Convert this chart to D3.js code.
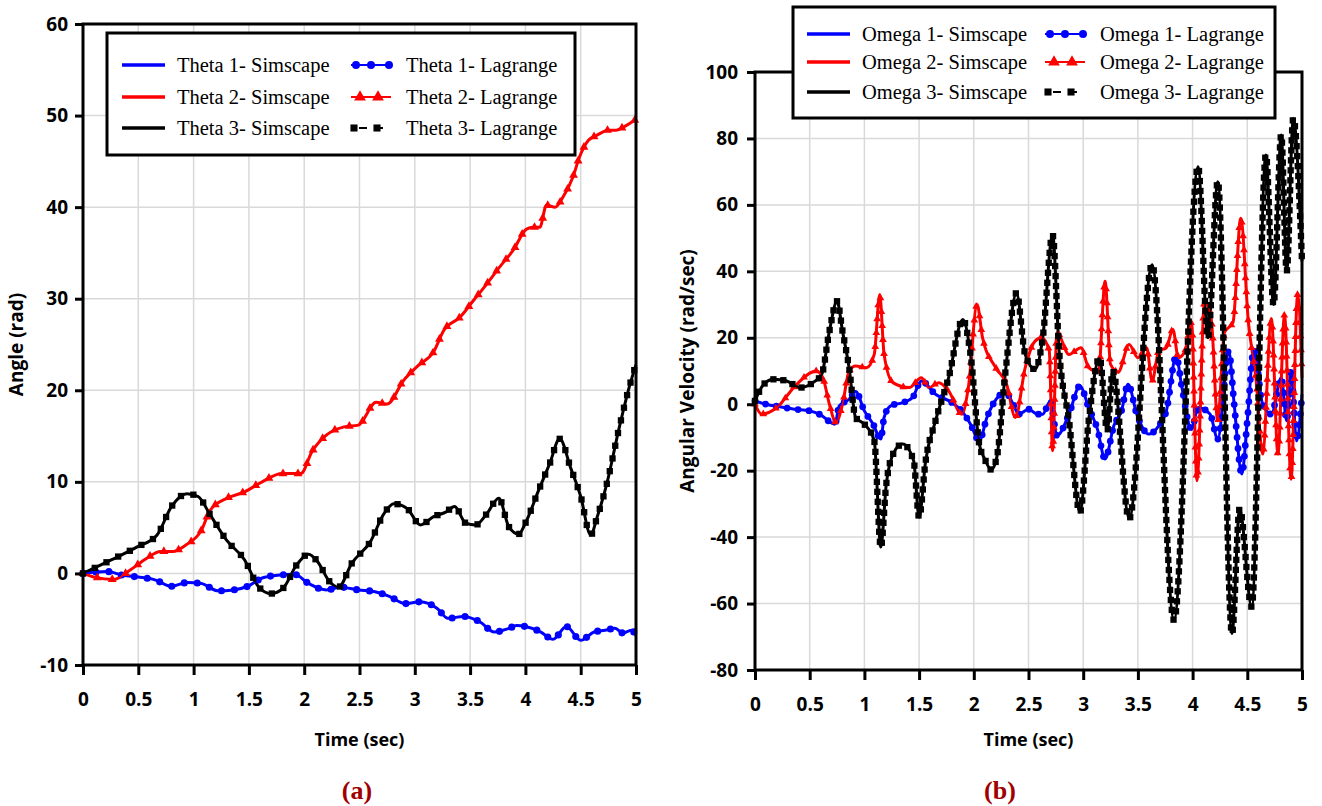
<!DOCTYPE html>
<html>
<head>
<meta charset="utf-8">
<script src="https://cdn.jsdelivr.net/npm/d3@7"></script>
<style>
  body { margin: 0; background: #fff; }
</style>
</head>
<body>
<script>
// ---- data ----
var timeTicks  = [0, 0.5, 1, 1.5, 2, 2.5, 3, 3.5, 4, 4.5, 5];
var angleTicks = [-10, 0, 10, 20, 30, 40, 50, 60];
var omegaTicks = [-80, -60, -40, -20, 0, 20, 40, 60, 80, 100];

// (a) angles, rad
var theta1T = [0,0.22,0.36,0.5,0.65,0.8,0.94,1.07,1.22,1.36,1.49,1.62,1.76,1.91,2.04,2.2,2.33,2.49,2.64,2.77,2.91,3.05,3.2,3.3,3.44,3.59,3.72,3.85,3.92,4.0,4.14,4.25,4.37,4.5,4.62,4.72,4.81,4.88,4.96,5.0];
var theta1  = [0,0.2,-0.2,-0.4,-0.7,-1.4,-1.0,-1.1,-1.9,-1.8,-1.4,-0.5,-0.2,-0.1,-1.1,-1.8,-1.5,-1.8,-2.0,-2.5,-3.3,-3.1,-3.8,-4.9,-4.7,-5.3,-6.4,-6.0,-5.7,-5.8,-6.4,-7.2,-5.8,-7.3,-6.4,-6.2,-6.0,-6.5,-6.2,-6.8];

var theta2T = [0,0.1,0.28,0.43,0.57,0.7,0.81,0.93,1.07,1.15,1.3,1.46,1.62,1.8,1.97,2.07,2.2,2.36,2.49,2.65,2.75,2.9,3.03,3.17,3.26,3.41,3.53,3.65,3.77,3.89,4.01,4.07,4.13,4.19,4.27,4.34,4.43,4.49,4.57,4.64,4.75,4.82,4.88,5.0];
var theta2  = [0,-0.4,-0.65,0.4,1.6,2.4,2.4,3.1,4.7,6.9,8.2,8.9,10.0,10.9,10.9,13.3,15.1,16.0,16.2,18.7,18.5,21.1,22.7,24.2,26.5,28,29.8,31.6,33.5,35.3,37.6,37.8,37.8,40.2,40,41.1,43.3,45.5,47.3,47.8,48.4,48.4,48.7,49.6];

var theta3T = [0,0.26,0.49,0.67,0.8,0.94,1.04,1.15,1.3,1.46,1.59,1.7,1.81,1.93,2.04,2.12,2.23,2.31,2.43,2.6,2.72,2.81,2.93,3.05,3.17,3.28,3.36,3.46,3.55,3.65,3.76,3.85,3.94,4.0,4.12,4.22,4.31,4.41,4.5,4.59,4.65,4.73,4.85,4.94,5.0];
var theta3  = [0,1.5,2.9,4.2,7.3,8.7,8.4,6.4,3.6,1.5,-1.5,-2.2,-1.6,0.9,2.1,1.3,-0.9,-1.5,1.1,3.5,6.5,7.6,7.1,5.3,6.2,6.7,7.3,5.5,5.3,6.5,8.2,5.1,4.3,5.5,9.1,12.0,14.7,11.5,8.4,4.2,6.2,9.5,16.0,20.4,22.8];

// (b) angular velocities, rad/sec
var omega1T = [0,0.1,0.23,0.36,0.5,0.6,0.73,0.77,0.86,0.92,1.0,1.08,1.15,1.18,1.24,1.35,1.44,1.52,1.65,1.8,1.89,1.97,2.05,2.12,2.23,2.29,2.36,2.41,2.5,2.58,2.63,2.7,2.76,2.87,2.97,3.05,3.13,3.2,3.28,3.35,3.41,3.49,3.6,3.69,3.76,3.85,3.9,3.99,4.05,4.16,4.23,4.33,4.38,4.45,4.5,4.56,4.64,4.72,4.81,4.86,4.9,4.95,5.0];
var omega1  = [1,0,-0.8,-1.5,-2,-3.2,-6,-0.5,1.5,3.8,-2,-6,-10.5,-4,-0.5,0.5,2,7,3,0.5,-2,-6,-11,-4,2.5,3.5,0,-3,-1.5,-3,-3,1,-9.5,-3,5.5,-1,-7.5,-16.5,-6.5,-2,6,-3,-9,-6.5,-2,14.5,5.5,-7.5,-1,-3,-10.5,16,0,-21,-5,16.5,0,-3,8,-5,10,-11,3];

var omega2T = [0,0.06,0.2,0.38,0.56,0.62,0.68,0.74,0.8,0.86,0.92,1.02,1.09,1.14,1.18,1.26,1.41,1.52,1.59,1.68,1.77,1.89,1.95,2.03,2.08,2.2,2.3,2.38,2.47,2.56,2.62,2.69,2.72,2.76,2.87,2.98,3.05,3.14,3.2,3.25,3.32,3.42,3.5,3.58,3.63,3.69,3.76,3.82,3.87,3.93,3.99,4.04,4.11,4.17,4.23,4.29,4.37,4.44,4.51,4.58,4.64,4.72,4.78,4.84,4.9,4.96,5.0];
var omega2  = [0,-3,-1,6,10,8,0,-5.5,0,10,11.5,11,15,33,15,6.5,5,8,5,6.5,4,-3,5,30,20,11,6,-4,11,19,20,16,-14,21.5,15,17,11,9.7,37,12,9.7,18,14,17,7,16,17,22.5,14,16,24.7,-23,31,25.8,-5,21.5,24.7,56,24.7,7.5,-15,25.8,-15,26.9,-22.6,33,8];

var omega3T = [0,0.08,0.17,0.29,0.41,0.53,0.61,0.68,0.75,0.8,0.86,0.92,1.0,1.09,1.15,1.2,1.27,1.35,1.45,1.5,1.56,1.65,1.77,1.9,1.97,2.05,2.1,2.16,2.21,2.29,2.39,2.47,2.56,2.63,2.72,2.78,2.87,2.97,3.05,3.15,3.22,3.27,3.42,3.63,3.83,4.05,4.14,4.23,4.36,4.43,4.54,4.67,4.74,4.81,4.86,4.92,5.0];
var omega3  = [1,6,7.5,7,5,6.5,9,22,31,22,11,-4,-6,-11,-43,-24,-14.5,-12,-17,-34,-17,-5,8,25.5,15,-12,-16.5,-19.7,-16,10,33.5,15,10.5,20,51,16,-5,-32.5,-5,14,-8,10,-34.5,42,-65,71.5,20,67,-69,-31.5,-61,75,30,81,40,86,43];

var seriesColors = ["#0000ff", "#ff0000", "#000000"];
var markerTypes  = [d3.symbolCircle, d3.symbolTriangle, d3.symbolSquare];

var svg = d3.select("body").append("svg")
  .attr("width", 1322)
  .attr("height", 806)
  .style("background", "#fff");

var tickFont = "'Open Sans', 'DejaVu Sans', sans-serif";
var serifFont = "'Liberation Serif', 'Times New Roman', serif";

function zip(ts, vs) {
  return ts.map(function (t, i) { return [t, vs[i]]; });
}

function drawPanel(p) {
  var x = d3.scaleLinear().domain([0, 5]).range([p.left, p.right]);
  var y = d3.scaleLinear().domain(p.yDomain).range([p.bottom, p.top]);
  var g = svg.append("g");

  // grid
  g.selectAll(".vgrid").data(timeTicks.slice(1, -1)).enter().append("line")
    .attr("x1", function (d) { return x(d); }).attr("x2", function (d) { return x(d); })
    .attr("y1", p.top).attr("y2", p.bottom)
    .attr("stroke", "#d9d9d9").attr("stroke-width", 1.5);
  g.selectAll(".hgrid").data(p.yTicks.slice(1, -1)).enter().append("line")
    .attr("x1", p.left).attr("x2", p.right)
    .attr("y1", function (d) { return y(d); }).attr("y2", function (d) { return y(d); })
    .attr("stroke", "#d9d9d9").attr("stroke-width", 1.5);

  var line = d3.line()
    .x(function (d) { return x(d[0]); })
    .y(function (d) { return y(d[1]); })
    .curve(d3.curveMonotoneX);

  // Simscape lines
  p.series.forEach(function (s, i) {
    g.append("path").datum(s)
      .attr("d", line)
      .attr("fill", "none")
      .attr("stroke", seriesColors[i])
      .attr("stroke-width", 3)
      .attr("stroke-linejoin", "round");
  });

  // Lagrange results (lie on top of the Simscape ones), markers along the curve
  p.series.forEach(function (s, i) {
    var path = g.append("path").datum(s)
      .attr("d", line)
      .attr("fill", "none")
      .attr("stroke", seriesColors[i])
      .attr("stroke-width", 1.5);
    var node = path.node();
    var total = node.getTotalLength();
    var pts = [];
    for (var l = 0; l <= total; l += p.markerStep[i]) pts.push(node.getPointAtLength(l));
    g.selectAll(".mk" + i).data(pts).enter().append("path")
      .attr("transform", function (d) { return "translate(" + d.x + "," + d.y + ")"; })
      .attr("d", d3.symbol().type(markerTypes[i]).size(p.markerSize[i]))
      .attr("fill", seriesColors[i]);
  });

  // frame
  g.append("rect")
    .attr("x", p.left).attr("y", p.top)
    .attr("width", p.right - p.left).attr("height", p.bottom - p.top)
    .attr("fill", "none").attr("stroke", "#000").attr("stroke-width", 3);

  // axes
  var xAxis = g.append("g")
    .attr("transform", "translate(0," + p.bottom + ")")
    .call(d3.axisBottom(x).tickValues(timeTicks).tickSize(10).tickPadding(18)
      .tickFormat(function (d) { return String(d); }));
  var yAxis = g.append("g")
    .attr("transform", "translate(" + p.left + ",0)")
    .call(d3.axisLeft(y).tickValues(p.yTicks).tickSize(8).tickPadding(p.yPad)
      .tickFormat(function (d) { return String(d); }));
  [xAxis, yAxis].forEach(function (a) {
    a.select(".domain").remove();
    a.selectAll(".tick line").attr("stroke", "#000").attr("stroke-width", 3);
    a.selectAll(".tick text")
      .attr("fill", "#000")
      .style("font-family", tickFont)
      .style("font-weight", "700")
      .style("font-size", "19px");
  });

  // axis titles
  g.append("text")
    .attr("x", (p.left + p.right) / 2).attr("y", 746)
    .attr("text-anchor", "middle")
    .style("font-family", tickFont).style("font-weight", "700").style("font-size", "18px")
    .text("Time (sec)");
  g.append("text")
    .attr("transform", "translate(" + p.yTitleX + "," + ((p.top + p.bottom) / 2) + ") rotate(-90)")
    .attr("text-anchor", "middle")
    .style("font-family", tickFont).style("font-weight", "700").style("font-size", "19px")
    .text(p.yTitle);

  // caption
  g.append("text")
    .attr("x", p.captionX).attr("y", 799)
    .attr("text-anchor", "middle")
    .attr("fill", "#a00000")
    .style("font-family", serifFont).style("font-weight", "700").style("font-size", "26px")
    .text(p.caption);

  // legend
  var L = p.legend;
  g.append("rect")
    .attr("x", L.x).attr("y", L.y).attr("width", L.w).attr("height", L.h)
    .attr("fill", "#fff").attr("stroke", "#000").attr("stroke-width", 3);
  L.rows.forEach(function (ry, i) {
    // Simscape sample
    g.append("line")
      .attr("x1", L.c1).attr("x2", L.c1 + 43).attr("y1", ry).attr("y2", ry)
      .attr("stroke", seriesColors[i]).attr("stroke-width", 3.5);
    g.append("text")
      .attr("x", L.c1 + 55).attr("y", ry).attr("dy", "0.35em")
      .style("font-family", serifFont).style("font-size", "20.5px")
      .text(L.name + " " + (i + 1) + "- Simscape");
    // Lagrange sample
    var lx = L.c2;
    var ls = g.append("line")
      .attr("x1", lx).attr("x2", lx + 40).attr("y1", ry).attr("y2", ry)
      .attr("stroke", seriesColors[i]).attr("stroke-width", 2);
    var mks = i === 0 ? [lx + 5, lx + 20, lx + 38] : (i === 1 ? [lx + 9, lx + 27] : [lx + 3, lx + 26]);
    if (i === 2) ls.attr("stroke-dasharray", "0,8,8,12,4,10").attr("stroke-width", 2);
    mks.forEach(function (mx) {
      g.append("path")
        .attr("transform", "translate(" + mx + "," + ry + ")")
        .attr("d", d3.symbol().type(markerTypes[i]).size(i === 1 ? 60 : 50))
        .attr("fill", seriesColors[i]);
    });
    g.append("text")
      .attr("x", L.c2 + 55).attr("y", ry).attr("dy", "0.35em")
      .style("font-family", serifFont).style("font-size", "20.5px")
      .text(L.name + " " + (i + 1) + "- Lagrange");
  });
}

drawPanel({
  left: 83, right: 636, top: 24, bottom: 665,
  yDomain: [-10, 60], yTicks: angleTicks, yPad: 7,
  series: [zip(theta1T, theta1), zip(theta2T, theta2), zip(theta3T, theta3)],
  markerStep: [13, 15, 13], markerSize: [40, 34, 40],
  yTitle: "Angle (rad)", yTitleX: 23,
  caption: "(a)", captionX: 357,
  legend: { x: 107, y: 33, w: 468, h: 122, rows: [65, 97, 128], c1: 122, c2: 351, name: "Theta" }
});

drawPanel({
  left: 755, right: 1302, top: 72, bottom: 670,
  yDomain: [-80, 100], yTicks: omegaTicks, yPad: 9,
  series: [zip(omega1T, omega1), zip(omega2T, omega2), zip(omega3T, omega3)],
  markerStep: [11, 14, 10], markerSize: [36, 26, 40],
  yTitle: "Angular Velocity (rad/sec)", yTitleX: 694,
  caption: "(b)", captionX: 1000,
  legend: { x: 793, y: 7, w: 482, h: 111, rows: [34, 62, 92], c1: 807, c2: 1045, name: "Omega" }
});
</script>
</body>
</html>
